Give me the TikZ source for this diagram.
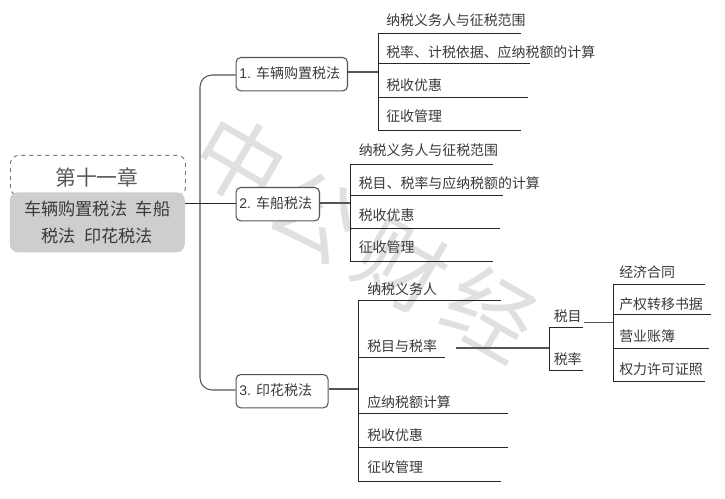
\documentclass[tikz,border=0pt]{standalone}
\usepackage{fontspec}
\setmainfont{Noto Sans CJK SC}
\setsansfont{Liberation Sans}
\definecolor{ink}{HTML}{3A3A3A}
\definecolor{wire}{HTML}{555555}
\definecolor{mark}{HTML}{E0E0E0}
\definecolor{rootfill}{HTML}{CDCECF}
\begin{document}
\begin{tikzpicture}[x=0.75pt,y=-0.75pt,
  lbl/.style={inner sep=0pt,anchor=west,text=ink,font=\fontsize{10.45}{12}\selectfont},
  topic/.style={draw=wire,line width=0.8pt,rounded corners=3.5pt,fill=white,inner sep=0pt,minimum height=25pt,anchor=north west,text=ink,font=\fontsize{10.5}{12}\selectfont},
  wirel/.style={draw=wire,line width=0.8pt},
  dark/.style={draw=black!85,line width=0.7pt}]
\useasboundingbox (0,0) rectangle (725,499);
\fill[white] (0,0) rectangle (725,499);
% watermark
\foreach \g/\px/\py in {中/240/161,公/315/215,财/402/266,经/491/312}
  \node[text=mark,rotate=-30,font=\fontsize{66}{70}\selectfont,inner sep=0pt] (wm\px) at (\px,\py) {\g};
% root
\node[draw=black!55,dashed,line width=0.7pt,rounded corners=6pt,minimum width=131.25pt,minimum height=30pt,anchor=north west,inner sep=0pt] (rootbox) at (10,155) {};
\node[fill=rootfill,rounded corners=6pt,minimum width=131.25pt,minimum height=45pt,anchor=north west,inner sep=0pt,text=ink,align=center,font=\fontsize{12.9}{20.5}\selectfont] (root) at (9.5,192) {车辆购置税法\hspace{0.5em}车船\\税法\hspace{0.5em}印花税法};
\node[text=black!65,inner sep=0pt,font=\fontsize{15.6}{18}\selectfont] (title) at (97,177) {第十一章};
% topics
\node[topic,minimum width=83.6pt] (t1) at (235.5,57) {};
\node[topic,minimum width=62.6pt] (t2) at (235.5,187) {};
\node[topic,minimum width=69pt] (t3) at (235.5,374) {};
\node[lbl,font=\fontsize{10.5}{12}\selectfont] (t1l) at (239,73) {{\sffamily 1. }车辆购置税法};
\node[lbl,font=\fontsize{10.5}{12}\selectfont] (t2l) at (239,203) {{\sffamily 2. }车船税法};
\node[lbl,font=\fontsize{10.5}{12}\selectfont] (t3l) at (239,390) {{\sffamily 3. }印花税法};
% trunk
\coordinate (rootout) at (185,203);
\coordinate (trunktop) at (200,75);
\coordinate (trunkbot) at (200,390);
\draw[wirel,rounded corners=9pt] (t1.west |- trunktop) -- (trunktop) -- (trunkbot) -- (t3.west |- trunkbot);
\draw[dark] (rootout) -- (t2.west |- rootout);
% group 1
\node[lbl] (a1) at (386,20) {纳税义务人与征税范围};
\node[lbl] (a2) at (386,52) {税率、计税依据、应纳税额的计算};
\node[lbl] (a3) at (386,85) {税收优惠};
\node[lbl] (a4) at (386,116) {征收管理};
\coordinate (ab) at (378,72);
\coordinate (ae1) at (520.7,33); \coordinate (ae2) at (530,63.5);
\coordinate (ae3) at (527.7,97); \coordinate (ae4) at (520.7,130);
\draw[wirel] (t1.east |- ab) -- (ab);
\draw[dark] (ae1) -- (ab |- ae1) -- (ab |- ae4) -- (ae4);
\draw[dark] (ab |- ae2) -- (ae2);
\draw[dark] (ab |- ae3) -- (ae3);
% group 2
\node[lbl] (b1) at (358.5,150) {纳税义务人与征税范围};
\node[lbl] (b2) at (358.5,183) {税目、税率与应纳税额的计算};
\node[lbl] (b3) at (358.5,215) {税收优惠};
\node[lbl] (b4) at (358.5,247) {征收管理};
\coordinate (bb) at (350,203);
\coordinate (be1) at (493,164); \coordinate (be2) at (503,195);
\coordinate (be3) at (500,228); \coordinate (be4) at (493,261);
\draw[wirel] (t2.east |- bb) -- (bb);
\draw[dark] (be1) -- (bb |- be1) -- (bb |- be4) -- (be4);
\draw[dark] (bb |- be2) -- (be2);
\draw[dark] (bb |- be3) -- (be3);
% group 3
\node[lbl] (c1) at (367,289) {纳税义务人};
\node[lbl] (c2) at (367,346) {税目与税率};
\node[lbl] (c3) at (367,402) {应纳税额计算};
\node[lbl] (c4) at (367,435) {税收优惠};
\node[lbl] (c5) at (367,467) {征收管理};
\coordinate (cb) at (358,389);
\coordinate (ce1) at (501,300.7); \coordinate (ce2) at (445,357);
\coordinate (ce3) at (508,413); \coordinate (ce4) at (508,447); \coordinate (ce5) at (501,481);
\draw[wirel] (t3.east |- cb) -- (cb);
\draw[dark] (ce1) -- (cb |- ce1) -- (cb |- ce5) -- (ce5);
\draw[dark] (cb |- ce2) -- (ce2);
\draw[dark] (cb |- ce3) -- (ce3);
\draw[dark] (cb |- ce4) -- (ce4);
% second level
\node[lbl] (d1) at (553.5,316) {税目};
\node[lbl] (d2) at (553.5,359) {税率};
\coordinate (ds) at (456,348);
\coordinate (db) at (549,348);
\coordinate (de1) at (582.7,327); \coordinate (de2) at (582.7,370);
\draw[wirel] (ds) -- (db);
\draw[dark] (de1) -- (db |- de1) -- (db |- de2) -- (de2);
% third level
\node[lbl] (e1) at (619,272) {经济合同};
\node[lbl] (e2) at (619,304) {产权转移书据};
\node[lbl] (e3) at (619,336) {营业账簿};
\node[lbl] (e4) at (619,369) {权力许可证照};
\coordinate (es) at (584,322.7);
\coordinate (eb) at (613.5,322.7);
\coordinate (ee1) at (705,284); \coordinate (ee2) at (710.7,314.5);
\coordinate (ee3) at (709,348); \coordinate (ee4) at (705,381);
\draw[wirel] (es) -- (eb);
\draw[dark] (ee1) -- (eb |- ee1) -- (eb |- ee4) -- (ee4);
\draw[dark] (eb |- ee2) -- (ee2);
\draw[dark] (eb |- ee3) -- (ee3);
\end{tikzpicture}
\end{document}
